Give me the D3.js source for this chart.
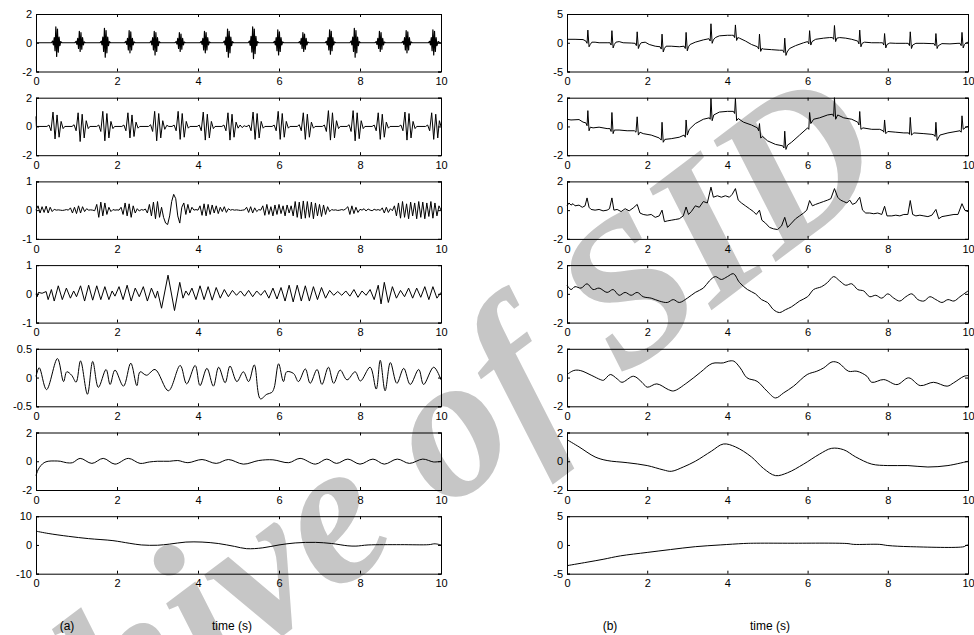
<!DOCTYPE html>
<html>
<head>
<meta charset="utf-8">
<script src="https://cdn.jsdelivr.net/npm/d3@7"></script>
<style>
  body { margin: 0; background: #fff; }
  svg { display: block; }
  text { font-family: "Liberation Sans", Arial, sans-serif; }
</style>
</head>
<body>
<svg id="chart" width="974" height="635"></svg>
<script>
/*
 * Two columns of decomposed signals, seven panels each, time 0-10 s.
 * Each series is a list of [time, value] vertices.
 */

var timeTicks = [0, 2, 4, 6, 8, 10];

// (a) column
var imfA1 = [[0,0],[0.38,0],[0.41,0.12],[0.43,-0.15],[0.45,0.35],[0.47,-0.55],[0.49,1.1],[0.51,-0.95],[0.53,0.95],[0.55,-0.65],[0.57,0.4],[0.59,-0.2],[0.61,0.08],[0.64,0],
  [0.96,0],[0.99,0.1],[1.01,-0.12],[1.03,0.3],[1.05,-0.4],[1.07,0.8],[1.09,-0.6],[1.11,0.7],[1.13,-0.45],[1.15,0.35],[1.17,-0.15],[1.19,0.06],[1.22,0],
  [1.58,0],[1.61,0.1],[1.63,-0.15],[1.65,0.4],[1.67,-0.6],[1.69,1.0],[1.71,-1.0],[1.73,0.85],[1.75,-0.7],[1.77,0.4],[1.79,-0.2],[1.81,0.08],[1.84,0],
  [2.19,0],[2.22,0.1],[2.24,-0.12],[2.26,0.3],[2.28,-0.5],[2.30,0.85],[2.32,-0.7],[2.34,0.75],[2.36,-0.5],[2.38,0.3],[2.40,-0.15],[2.42,0.06],[2.45,0],
  [2.81,0],[2.84,0.12],[2.86,-0.15],[2.88,0.35],[2.90,-0.5],[2.92,0.8],[2.94,-0.85],[2.96,0.7],[2.98,-0.6],[3.00,0.35],[3.02,-0.2],[3.04,0.08],[3.07,0],
  [3.43,0],[3.46,0.08],[3.48,-0.1],[3.50,0.3],[3.52,-0.4],[3.54,0.7],[3.56,-0.6],[3.58,0.6],[3.60,-0.45],[3.62,0.3],[3.64,-0.15],[3.66,0.05],[3.69,0],
  [4.05,0],[4.08,0.1],[4.10,-0.12],[4.12,0.3],[4.14,-0.5],[4.16,0.8],[4.18,-0.7],[4.20,0.7],[4.22,-0.5],[4.24,0.35],[4.26,-0.15],[4.28,0.06],[4.31,0],
  [4.62,0],[4.65,0.12],[4.67,-0.15],[4.69,0.4],[4.71,-0.6],[4.73,0.95],[4.75,-1.0],[4.77,0.8],[4.79,-0.7],[4.81,0.4],[4.83,-0.2],[4.85,0.08],[4.88,0],
  [5.24,0],[5.27,0.12],[5.29,-0.18],[5.31,0.45],[5.33,-0.65],[5.35,1.1],[5.37,-1.1],[5.39,0.95],[5.41,-0.75],[5.43,0.45],[5.45,-0.2],[5.47,0.08],[5.50,0],
  [5.86,0],[5.89,0.1],[5.91,-0.15],[5.93,0.35],[5.95,-0.55],[5.97,0.9],[5.99,-0.85],[6.01,0.75],[6.03,-0.6],[6.05,0.35],[6.07,-0.15],[6.09,0.06],[6.12,0],
  [6.48,0],[6.51,0.08],[6.53,-0.1],[6.55,0.3],[6.57,-0.4],[6.59,0.7],[6.61,-0.6],[6.63,0.6],[6.65,-0.45],[6.67,0.3],[6.69,-0.15],[6.71,0.05],[6.74,0],
  [7.14,0],[7.17,0.1],[7.19,-0.15],[7.21,0.35],[7.23,-0.5],[7.25,0.9],[7.27,-0.8],[7.29,0.8],[7.31,-0.55],[7.33,0.35],[7.35,-0.15],[7.37,0.06],[7.40,0],
  [7.75,0],[7.78,0.12],[7.80,-0.15],[7.82,0.4],[7.84,-0.6],[7.86,1.0],[7.88,-1.0],[7.90,0.85],[7.92,-0.7],[7.94,0.4],[7.96,-0.2],[7.98,0.08],[8.01,0],
  [8.37,0],[8.40,0.08],[8.42,-0.12],[8.44,0.3],[8.46,-0.4],[8.48,0.8],[8.50,-0.6],[8.52,0.7],[8.54,-0.45],[8.56,0.3],[8.58,-0.15],[8.60,0.05],[8.63,0],
  [9.03,0],[9.06,0.1],[9.08,-0.12],[9.10,0.35],[9.12,-0.5],[9.14,0.85],[9.16,-0.7],[9.18,0.75],[9.20,-0.5],[9.22,0.35],[9.24,-0.15],[9.26,0.06],[9.29,0],
  [9.69,0],[9.72,0.1],[9.74,-0.15],[9.76,0.35],[9.78,-0.55],[9.80,0.9],[9.82,-0.85],[9.84,0.8],[9.86,-0.6],[9.88,0.35],[9.90,-0.2],[9.93,0.08],[9.97,0],[10,0]];

var imfA2 = [[0,0.7],[0.01,0],
  [0.27,0],[0.32,0.1],[0.37,-0.3],[0.42,1.0],[0.47,-0.87],[0.52,0.8],[0.57,-0.75],[0.62,0.35],[0.67,-0.15],[0.71,0],
  [0.89,0],[0.94,0.12],[0.99,-0.3],[1.04,0.95],[1.09,-1.05],[1.14,0.85],[1.19,-0.8],[1.24,0.4],[1.29,-0.15],[1.33,0],
  [1.50,0],[1.55,0.1],[1.60,-0.35],[1.65,1.05],[1.70,-1.0],[1.75,0.9],[1.80,-0.8],[1.85,0.35],[1.90,-0.15],[1.94,0],
  [2.12,0],[2.17,0.1],[2.22,-0.3],[2.27,0.95],[2.32,-0.8],[2.37,0.8],[2.42,-0.7],[2.47,0.3],[2.52,-0.12],[2.56,0],
  [2.78,0],[2.83,0.12],[2.88,-0.35],[2.93,1.05],[2.98,-1.0],[3.03,0.9],[3.08,-0.8],[3.13,0.4],[3.18,-0.2],[3.23,0.08],[3.28,0],
  [3.36,0],[3.41,0.1],[3.46,-0.3],[3.51,1.05],[3.56,-0.9],[3.61,0.9],[3.66,-0.75],[3.71,0.35],[3.76,-0.12],[3.80,0],
  [3.98,0],[4.03,0.1],[4.08,-0.3],[4.13,1.0],[4.18,-0.95],[4.23,0.85],[4.28,-0.8],[4.33,0.35],[4.38,-0.15],[4.42,0],
  [4.59,0],[4.64,0.1],[4.69,-0.3],[4.74,0.95],[4.79,-0.95],[4.84,0.85],[4.89,-0.75],[4.94,0.3],[4.99,-0.12],[5.04,0.1],[5.09,-0.08],[5.14,0.05],[5.18,0],
  [5.21,0],[5.26,0.1],[5.31,-0.3],[5.36,1.0],[5.41,-0.9],[5.46,0.9],[5.51,-0.8],[5.56,0.35],[5.61,-0.12],[5.65,0],
  [5.83,0],[5.88,0.1],[5.93,-0.3],[5.98,1.05],[6.03,-0.9],[6.08,0.9],[6.13,-0.75],[6.18,0.35],[6.23,-0.12],[6.27,0],
  [6.45,0],[6.50,0.12],[6.55,-0.3],[6.60,0.95],[6.65,-0.9],[6.70,0.85],[6.75,-0.75],[6.80,0.3],[6.85,-0.12],[6.89,0],
  [7.07,0],[7.12,0.1],[7.17,-0.35],[7.22,1.1],[7.27,-0.95],[7.32,0.95],[7.37,-0.8],[7.42,0.4],[7.47,-0.15],[7.51,0],
  [7.68,0],[7.73,0.12],[7.78,-0.35],[7.83,1.1],[7.88,-1.0],[7.93,0.95],[7.98,-0.85],[8.03,0.4],[8.08,-0.15],[8.12,0],
  [8.30,0],[8.35,0.1],[8.40,-0.3],[8.45,0.95],[8.50,-0.9],[8.55,0.85],[8.60,-0.75],[8.65,0.3],[8.70,-0.12],[8.74,0],
  [8.96,0],[9.01,0.1],[9.06,-0.3],[9.11,1.0],[9.16,-0.95],[9.21,0.9],[9.26,-0.8],[9.31,0.35],[9.36,-0.15],[9.40,0],
  [9.62,0],[9.67,0.1],[9.72,-0.3],[9.77,0.95],[9.82,-0.9],[9.87,0.85],[9.92,-0.8],[9.96,0.4],[10,0]];

// sampled every 0.05 s
var imfA3Step = 0.05;
var imfA3 = [0,0.15,-0.1,0.12,-0.08,0.14,-0.1,0.1,-0.05,0.03,0,0.01,0,-0.01,0,0.02,0,0.08,-0.1,0.1,
  -0.12,0.15,-0.1,0.12,-0.05,0.05,0,0.01,0,-0.02,0.2,-0.25,0.28,-0.2,0.25,-0.15,0.1,-0.05,0.02,0,
  0.01,0,0.1,-0.15,0.25,-0.2,0.22,-0.25,0.15,-0.1,0.05,-0.03,0.02,0,0.04,-0.1,0.2,-0.2,0.28,-0.3,
  0.3,-0.25,0.1,-0.25,-0.45,-0.5,-0.2,0.3,0.55,0.4,-0.2,-0.45,0.1,0.25,-0.15,0.2,-0.1,0.1,0,0.02,
  0,0.15,-0.18,0.22,-0.2,0.2,-0.15,0.18,-0.1,0.15,-0.12,0.1,-0.05,0.12,-0.08,0.05,0,0.02,0,0.01,
  0,-0.01,0,0.01,0.1,-0.08,0.12,-0.1,0.08,-0.05,0.02,0,0.15,-0.18,0.2,-0.15,0.12,-0.2,0.18,-0.15,
  0.2,-0.12,0.15,-0.2,0.18,-0.1,0.15,-0.2,0.3,-0.25,0.28,-0.3,0.32,-0.28,0.3,-0.25,0.28,-0.3,0.25,-0.2,
  0.2,-0.22,0.18,-0.15,0.12,-0.05,0.02,0,0.01,-0.01,0,0.02,0,0.05,0.12,-0.15,0.15,-0.12,0.1,-0.08,
  0.03,0,0.05,-0.03,0.04,0,-0.02,0.03,0,0.02,-0.01,0.08,-0.1,0.1,-0.08,0.05,-0.02,0.15,-0.2,0.25,
  -0.28,0.3,-0.25,0.22,-0.3,0.28,-0.2,0.25,-0.3,0.3,-0.25,0.28,-0.3,0.25,-0.22,0.3,-0.28,0.25,-0.2,0.15,
  0];

var imfA4 = [[0,0],[0.03,-0.1],[0.06,0.05],[0.15,0.02],[0.25,0.08],[0.3,-0.2],[0.38,0.15],[0.45,-0.25],[0.55,0.28],[0.65,-0.2],[0.75,0.2],[0.85,-0.15],[0.93,0.1],
  [1.0,-0.1],[1.1,0.28],[1.2,-0.25],[1.3,0.3],[1.4,-0.22],[1.5,0.28],[1.6,-0.2],[1.7,0.25],[1.8,-0.2],[1.88,0.1],[1.95,-0.08],
  [2.05,0.25],[2.15,-0.2],[2.25,0.3],[2.35,-0.25],[2.45,0.2],[2.55,-0.1],[2.65,0.25],[2.75,-0.25],[2.85,0.2],[2.95,-0.15],
  [3.0,0.1],[3.1,-0.5],[3.26,0.65],[3.42,-0.58],[3.55,0.4],[3.63,-0.15],[3.7,0.1],[3.77,-0.05],[3.85,0.2],[3.95,-0.2],
  [4.05,0.28],[4.15,-0.2],[4.25,0.25],[4.35,-0.22],[4.45,0.22],[4.55,-0.15],[4.65,0.15],[4.75,-0.1],[4.85,0.12],[4.95,-0.05],
  [5.05,0.1],[5.15,-0.08],[5.25,0.12],[5.35,-0.1],[5.45,0.1],[5.55,-0.05],[5.65,0.12],[5.75,-0.15],[5.85,0.2],[5.95,-0.18],
  [6.05,0.22],[6.15,-0.25],[6.25,0.3],[6.35,-0.28],[6.45,0.3],[6.55,-0.25],[6.65,0.28],[6.75,-0.25],[6.85,0.25],[6.95,-0.2],
  [7.05,0.22],[7.15,-0.15],[7.25,0.12],[7.35,-0.05],[7.45,0.08],[7.55,-0.05],[7.65,0.1],[7.75,-0.08],[7.85,0.15],[7.95,-0.12],
  [8.05,0.1],[8.15,-0.05],[8.25,0.15],[8.35,-0.2],[8.45,0.3],[8.52,-0.35],[8.6,0.4],[8.7,-0.3],[8.8,0.25],[8.9,-0.15],
  [9.0,0.12],[9.1,-0.1],[9.2,0.2],[9.3,-0.15],[9.4,0.2],[9.5,-0.12],[9.6,0.25],[9.7,-0.2],[9.8,0.25],[9.9,-0.15],[10,0.05]];

var imfA5 = [[0,0.02],[0.08,0.17],[0.26,-0.21],[0.53,0.33],[0.68,-0.07],[0.76,0.1],[0.88,0.04],[0.99,-0.08],[1.10,0.29],[1.27,-0.29],[1.40,0.28],[1.54,-0.17],
  [1.73,0.14],[1.83,-0.12],[1.95,0.13],[2.16,-0.15],[2.34,0.25],[2.49,-0.14],[2.57,0.1],[2.73,0.04],[2.94,0.14],[3.27,-0.23],[3.56,0.21],[3.72,-0.11],
  [3.93,0.21],[4.05,-0.14],[4.22,0.16],[4.38,-0.15],[4.51,0.18],[4.67,-0.09],[4.79,0.2],[4.96,-0.07],[5.12,0.1],[5.25,-0.07],[5.39,0.22],[5.54,-0.37],
  [5.7,-0.29],[5.82,-0.26],[5.88,-0.18],[5.99,0.24],[6.11,-0.07],[6.19,0.1],[6.36,0.07],[6.48,-0.07],[6.65,0.15],[6.77,-0.1],[6.94,0.14],[7.06,-0.12],
  [7.22,0.18],[7.35,-0.1],[7.51,0.13],[7.68,-0.04],[7.88,0.1],[8.01,-0.06],[8.25,0.18],[8.4,-0.2],[8.5,0.3],[8.62,-0.23],[8.75,0.26],[8.91,-0.1],
  [9.08,0.16],[9.24,-0.12],[9.45,0.14],[9.57,-0.12],[9.82,0.18],[10,-0.04]];

var imfA6 = [[0,-1.0],[0.05,-0.6],[0.12,-0.3],[0.2,-0.1],[0.3,0],[0.45,0.02],[0.6,0],[0.75,-0.1],[0.9,-0.1],[1.09,0.2],[1.38,-0.15],[1.66,0.2],[1.95,-0.2],
  [2.28,0.2],[2.57,-0.15],[2.8,-0.05],[3.0,0],[3.3,0],[3.5,0.05],[3.75,-0.1],[4.1,0.12],[4.45,-0.15],[4.75,0.12],[5.12,-0.2],[5.5,0.05],[5.85,0.1],
  [6.24,-0.1],[6.52,0.2],[6.9,-0.2],[7.18,0.15],[7.42,-0.15],[7.7,0.15],[8.0,-0.2],[8.32,0.15],[8.6,-0.2],[8.92,0.15],[9.22,-0.15],[9.55,0.15],[9.82,-0.05],[10,0]];

var resA7 = [[0,4.8],[0.3,4],[0.8,3],[1.3,2.2],[1.9,1.5],[2.3,0.6],[2.6,0],[3.0,-0.1],[3.3,0.3],[3.7,1.0],[4.1,1.0],[4.5,0.5],[4.9,-0.5],[5.2,-1.3],
  [5.6,-1.0],[6.0,0],[6.4,0.7],[6.9,0.9],[7.3,0.5],[7.7,-0.3],[7.9,-0.4],[8.2,0],[9.0,0.1],[9.7,0.1],[9.85,0.4],[10,0]];

// (b) column
var sigB1 = [[0,0.6],[0.2,0.6],[0.4,0.55],
  [0.47,0.3],[0.5,-0.1],[0.52,2.2],[0.55,-0.7],[0.58,-0.3],[0.62,0.1],[0.7,0.1],[0.8,0],[1.0,0],
  [1.07,0],[1.1,-0.4],[1.12,2.1],[1.15,-0.9],[1.18,-0.3],[1.22,0.1],[1.3,0.2],[1.4,0],[1.6,-0.05],
  [1.7,-0.1],[1.73,-0.5],[1.75,1.9],[1.78,-1.0],[1.81,-0.4],[1.85,0],[1.95,0.1],[2.05,-0.3],[2.2,-0.6],
  [2.32,-0.7],[2.35,-1.1],[2.37,1.5],[2.4,-1.6],[2.43,-1.0],[2.47,-0.6],[2.6,-0.6],[2.8,-0.7],
  [2.92,-0.6],[2.95,-1.0],[2.97,1.8],[3.0,-1.4],[3.03,-0.7],[3.07,-0.3],[3.2,0.1],[3.4,0.5],
  [3.54,0.7],[3.57,0.3],[3.59,3.3],[3.62,-0.1],[3.65,0.5],[3.7,0.9],[3.8,1.2],[4.0,1.3],[4.1,1.3],
  [4.15,1.3],[4.18,0.9],[4.2,3.1],[4.23,0.4],[4.26,0.9],[4.3,0.8],[4.45,0.3],[4.6,-0.3],
  [4.75,-0.7],[4.78,-1.1],[4.8,1.5],[4.83,-1.5],[4.86,-1.0],[4.9,-1.1],[5.1,-1.2],[5.3,-1.3],
  [5.38,-1.3],[5.41,-1.7],[5.43,0.8],[5.46,-2.2],[5.49,-1.6],[5.55,-1.0],[5.7,-0.5],[5.9,0],
  [6.0,0.2],[6.03,-0.2],[6.05,2.1],[6.08,-0.4],[6.11,0.2],[6.2,0.6],[6.4,0.8],[6.55,0.9],
  [6.62,0.9],[6.65,0.6],[6.67,3.0],[6.7,0.2],[6.73,0.8],[6.8,0.9],[6.95,0.8],[7.1,0.6],
  [7.25,0.3],[7.28,-0.2],[7.3,2.2],[7.33,-0.7],[7.36,-0.1],[7.42,0.1],[7.6,0],[7.8,0],
  [7.87,0],[7.9,-0.4],[7.92,1.6],[7.95,-0.9],[7.98,-0.3],[8.05,-0.05],[8.2,-0.1],[8.45,-0.1],
  [8.51,-0.1],[8.54,-0.5],[8.56,1.9],[8.59,-1.0],[8.62,-0.4],[8.7,-0.1],[8.9,-0.1],[9.1,-0.15],
  [9.15,-0.15],[9.18,-0.5],[9.2,1.6],[9.23,-1.0],[9.26,-0.5],[9.35,-0.15],[9.55,-0.2],[9.75,-0.1],
  [9.8,-0.1],[9.83,-0.5],[9.85,1.8],[9.88,-0.9],[9.91,-0.3],[9.96,0],[10,0.1]];

var imfB2 = [[0,0.5],[0.1,0.45],[0.3,0.48],[0.4,0.3],
  [0.47,0.25],[0.5,0.05],[0.52,1.1],[0.55,-0.3],[0.58,-0.05],[0.65,-0.1],[0.8,-0.05],[1.0,-0.15],
  [1.07,-0.15],[1.1,-0.35],[1.12,0.97],[1.15,-0.5],[1.18,-0.25],[1.3,-0.25],[1.5,-0.3],[1.68,-0.3],
  [1.72,-0.4],[1.75,0.67],[1.78,-0.6],[1.82,-0.4],[1.9,-0.5],[2.1,-0.6],[2.3,-0.8],
  [2.35,-0.95],[2.37,0.29],[2.4,-1.1],[2.44,-0.9],[2.6,-0.85],[2.8,-0.75],[2.92,-0.6],
  [2.95,-0.75],[2.97,0.45],[3.0,-0.6],[3.05,-0.2],[3.2,0.2],[3.4,0.5],[3.55,0.6],
  [3.57,0.5],[3.59,1.95],[3.62,0.4],[3.66,0.8],[3.8,1.0],[4.0,1.05],[4.15,1.05],
  [4.18,0.9],[4.2,1.95],[4.23,0.4],[4.27,0.55],[4.4,0.3],[4.6,0.1],[4.75,-0.1],
  [4.78,-0.3],[4.8,0.2],[4.83,-0.8],[4.88,-0.7],[5.0,-1.0],[5.2,-1.25],[5.38,-1.35],
  [5.41,-1.5],[5.43,-0.33],[5.46,-1.6],[5.5,-1.3],[5.6,-1.1],[5.8,-0.6],[6.0,-0.1],
  [6.03,-0.2],[6.05,0.97],[6.08,0.2],[6.15,0.5],[6.3,0.6],[6.5,0.8],[6.62,0.85],
  [6.65,0.7],[6.67,2.0],[6.7,0.5],[6.75,0.8],[6.9,0.6],[7.1,0.5],[7.25,0.3],
  [7.28,0.1],[7.3,1.04],[7.33,-0.2],[7.38,-0.1],[7.6,-0.2],[7.8,-0.2],[7.88,-0.3],
  [7.9,-0.4],[7.92,0.45],[7.95,-0.5],[8.0,-0.35],[8.2,-0.4],[8.4,-0.45],[8.52,-0.45],
  [8.54,-0.55],[8.56,0.63],[8.59,-0.6],[8.65,-0.45],[8.9,-0.5],[9.1,-0.55],[9.16,-0.6],
  [9.18,-0.7],[9.2,0.29],[9.23,-0.97],[9.3,-0.6],[9.5,-0.45],[9.7,-0.35],[9.8,-0.3],
  [9.83,-0.4],[9.85,0.74],[9.88,-0.2],[9.95,-0.05],[10,0]];

var imfB3 = [[0,0.3],[0.05,0.5],[0.1,0.35],[0.15,0.45],[0.2,0.3],[0.3,0.35],[0.38,0.2],[0.45,0.3],
  [0.5,0.85],[0.55,0.2],[0.6,0.05],[0.7,0.0],[0.8,0.05],[0.9,-0.05],[1.0,0.0],[1.06,0.1],
  [1.12,0.85],[1.17,0.0],[1.25,0.05],[1.35,-0.1],[1.45,0.1],[1.55,-0.05],[1.65,0.15],
  [1.75,0.4],[1.82,-0.2],[1.9,-0.3],[2.0,-0.35],[2.1,-0.3],[2.2,-0.5],[2.3,-0.4],
  [2.37,0.0],[2.43,-0.8],[2.5,-0.75],[2.6,-0.7],[2.7,-0.65],[2.8,-0.6],[2.9,-0.4],
  [2.97,0.22],[3.03,-0.3],[3.1,-0.1],[3.2,0.3],[3.3,0.2],[3.4,0.6],[3.5,0.5],
  [3.59,1.6],[3.65,0.9],[3.75,1.0],[3.85,0.9],[3.95,1.0],[4.05,0.9],[4.12,1.1],
  [4.2,1.5],[4.27,0.7],[4.35,0.5],[4.45,0.3],[4.55,0.1],[4.65,-0.1],[4.72,-0.3],
  [4.8,0.0],[4.86,-0.7],[4.95,-0.9],[5.05,-1.2],[5.15,-1.3],[5.25,-1.35],[5.35,-1.1],
  [5.43,-0.5],[5.5,-1.2],[5.6,-0.9],[5.7,-0.6],[5.8,-0.4],[5.9,-0.2],[5.98,0.0],
  [6.05,0.67],[6.12,0.3],[6.2,0.4],[6.3,0.5],[6.4,0.6],[6.5,0.7],[6.58,0.8],
  [6.67,1.5],[6.75,0.9],[6.82,0.7],[6.9,0.6],[6.98,0.5],[7.05,0.7],[7.12,0.4],
  [7.2,0.5],[7.3,0.9],[7.37,0.0],[7.45,-0.2],[7.55,-0.2],[7.65,-0.25],[7.75,-0.2],[7.85,-0.3],
  [7.92,0.27],[7.98,-0.4],[8.1,-0.4],[8.2,-0.35],[8.3,-0.4],[8.4,-0.3],[8.5,-0.3],
  [8.56,0.67],[8.62,-0.3],[8.7,-0.4],[8.8,-0.35],[8.9,-0.4],[9.0,-0.45],[9.1,-0.35],
  [9.2,0.05],[9.27,-0.6],[9.35,-0.45],[9.45,-0.4],[9.55,-0.35],[9.65,-0.3],[9.75,-0.3],
  [9.85,0.45],[9.92,0.0],[10,-0.1]];

var imfB4 = [[0,0.6],[0.1,0.3],[0.2,0.5],[0.35,0.4],[0.5,0.7],[0.65,0.3],[0.8,0.4],[1.0,0.1],[1.15,0.3],[1.3,-0.1],[1.45,0.1],[1.6,-0.1],
  [1.75,0.1],[1.9,-0.2],[2.1,-0.3],[2.3,-0.5],[2.5,-0.6],[2.65,-0.4],[2.8,-0.6],[3.0,-0.3],[3.2,0.1],[3.4,0.4],[3.55,0.9],[3.7,1.2],
  [3.85,1.0],[4.0,1.2],[4.15,1.4],[4.3,0.8],[4.5,0.3],[4.7,0.0],[4.85,-0.4],[5.0,-0.6],[5.15,-1.1],[5.3,-1.3],[5.45,-1.1],[5.6,-0.9],
  [5.8,-0.5],[6.0,-0.2],[6.15,0.3],[6.35,0.5],[6.5,0.8],[6.65,1.2],[6.8,0.9],[6.95,0.6],[7.1,0.7],[7.25,0.3],[7.4,0.2],[7.55,-0.2],
  [7.7,-0.1],[7.85,-0.3],[8.0,0.0],[8.15,-0.3],[8.3,-0.5],[8.45,-0.2],[8.6,0.0],[8.75,-0.4],[8.9,-0.5],[9.05,-0.2],[9.2,-0.4],
  [9.35,-0.6],[9.5,-0.4],[9.65,-0.5],[9.8,-0.2],[10,0.2]];

var imfB5 = [[0,0.21],[0.17,0.49],[0.33,0.49],[0.62,0.14],[0.83,-0.14],[0.91,-0.19],[1.08,0.21],[1.25,-0.09],[1.37,-0.33],[1.66,0.09],
  [1.87,-0.33],[2.0,-0.67],[2.24,-0.44],[2.53,-0.84],[2.66,-0.93],[2.99,-0.37],[3.33,0.37],[3.62,0.98],[3.9,1.02],[4.03,1.14],
  [4.16,1.14],[4.32,0.67],[4.49,-0.02],[4.74,-0.26],[4.99,-0.95],[5.2,-1.42],[5.4,-1.07],[5.65,-0.6],[5.99,0.21],[6.23,0.44],
  [6.4,0.67],[6.61,1.09],[6.77,1.02],[7.02,0.44],[7.23,0.44],[7.48,0.09],[7.6,-0.33],[7.9,-0.14],[8.23,-0.49],[8.52,-0.02],
  [8.81,-0.56],[9.14,-0.33],[9.48,-0.6],[9.64,-0.37],[9.9,0.09],[10,0.14]];

var imfB6 = [[0,1.5],[0.3,1.0],[0.7,0.3],[1.0,0.05],[1.5,-0.1],[2.0,-0.3],[2.4,-0.6],[2.6,-0.7],[2.9,-0.4],[3.2,0],[3.6,0.7],[3.9,1.2],
  [4.2,1.0],[4.6,0.3],[4.9,-0.5],[5.2,-1.0],[5.5,-0.8],[5.9,-0.2],[6.3,0.5],[6.6,0.9],[6.9,0.8],[7.2,0.3],[7.6,-0.2],[8.0,-0.3],
  [8.5,-0.3],[9.0,-0.4],[9.5,-0.3],[10,0]];

var resB7 = [[0,-3.6],[0.5,-3.0],[0.9,-2.5],[1.33,-1.9],[2.0,-1.3],[2.58,-0.8],[3.2,-0.3],[3.82,0],[4.4,0.25],[4.65,0.3],[5.5,0.3],
  [6.98,0.25],[7.15,0.1],[7.8,0.1],[8.0,-0.1],[8.56,-0.3],[9.9,-0.3],[9.95,-0.1],[10,0]];

var yTicksA = [[-2,0,2],[-2,0,2],[-1,0,1],[-1,0,1],[-0.5,0,0.5],[-2,0,2],[-10,0,10]];
var yTicksB = [[-5,0,5],[-2,0,2],[-2,0,2],[-2,0,2],[-2,0,2],[-2,0,2],[-5,0,5]];

function stepToPairs(vals, step) {
  return vals.map(function(v, i) { return [i * step, v]; });
}

var seriesA = [imfA1, imfA2, stepToPairs(imfA3, imfA3Step), imfA4, imfA5, imfA6, resA7];
var seriesB = [sigB1, imfB2, imfB3, imfB4, imfB5, imfB6, resB7];
var smoothA = [false, false, false, false, true, true, true];
var smoothB = [false, false, false, true, true, true, true];

var svg = d3.select('#chart');

// watermark goes underneath
svg.append('text')
  .attr('transform', 'translate(895,172) rotate(-37)')
  .attr('text-anchor', 'end')
  .style('font-family', '"Liberation Serif", "DejaVu Serif", serif')
  .style('font-weight', 'bold')
  .style('font-style', 'italic')
  .style('font-size', '205px')
  .attr('fill', '#c6c6c6')
  .text('Archive of SID');

var columns = [
  {x0: 36, x1: 441, series: seriesA, ticks: yTicksA, smooth: smoothA, label: '(a)', labelX: 67, timeX: 232},
  {x0: 567, x1: 968, series: seriesB, ticks: yTicksB, smooth: smoothB, label: '(b)', labelX: 610, timeX: 770}
];
var top0 = 14, rowStep = 83.7, ph = 57.5;
var tickLen = 3;

columns.forEach(function(col) {
  var x = d3.scaleLinear().domain([0, 10]).range([col.x0, col.x1]);
  col.series.forEach(function(data, i) {
    var yt = col.ticks[i];
    var y0 = top0 + i * rowStep;
    var y = d3.scaleLinear().domain([yt[0], yt[2]]).range([y0 + ph, y0]);
    var g = svg.append('g');

    var line = d3.line()
      .x(function(d) { return x(d[0]); })
      .y(function(d) { return y(d[1]); })
      .curve(col.smooth[i] ? d3.curveCatmullRom : d3.curveLinear);
    g.append('path')
      .datum(data)
      .attr('d', line)
      .attr('fill', 'none')
      .attr('stroke', '#000')
      .attr('stroke-width', i === 0 && col.x0 < 100 ? 1.2 : 1)
      .attr('stroke-linejoin', 'round');

    // bottom axis with labels, ticks pointing in
    var bottom = g.append('g')
      .attr('transform', 'translate(0,' + (y0 + ph) + ')')
      .call(d3.axisBottom(x).tickValues(timeTicks).tickSize(-tickLen).tickPadding(6).tickFormat(d3.format('d')));
    bottom.selectAll('text').attr('font-size', 11).attr('fill', '#000');
    g.append('g')
      .attr('transform', 'translate(0,' + y0 + ')')
      .call(d3.axisTop(x).tickValues(timeTicks).tickSize(-tickLen).tickFormat(''));

    var left = g.append('g')
      .attr('transform', 'translate(' + col.x0 + ',0)')
      .call(d3.axisLeft(y).tickValues(yt).tickSize(-tickLen).tickPadding(4).tickFormat(function(v) { return String(v); }));
    left.selectAll('text').attr('font-size', 11).attr('fill', '#000');
    g.append('g')
      .attr('transform', 'translate(' + col.x1 + ',0)')
      .call(d3.axisRight(y).tickValues(yt).tickSize(-tickLen).tickFormat(''));

    g.selectAll('.domain').attr('stroke', '#000');
    g.selectAll('.tick line').attr('stroke', '#000');
  });

  svg.append('text').attr('x', col.labelX).attr('y', 630).attr('text-anchor', 'middle')
    .attr('font-size', 12).text(col.label);
  svg.append('text').attr('x', col.timeX).attr('y', 630).attr('text-anchor', 'middle')
    .attr('font-size', 12).text('time (s)');
});
</script>
</body>
</html>
